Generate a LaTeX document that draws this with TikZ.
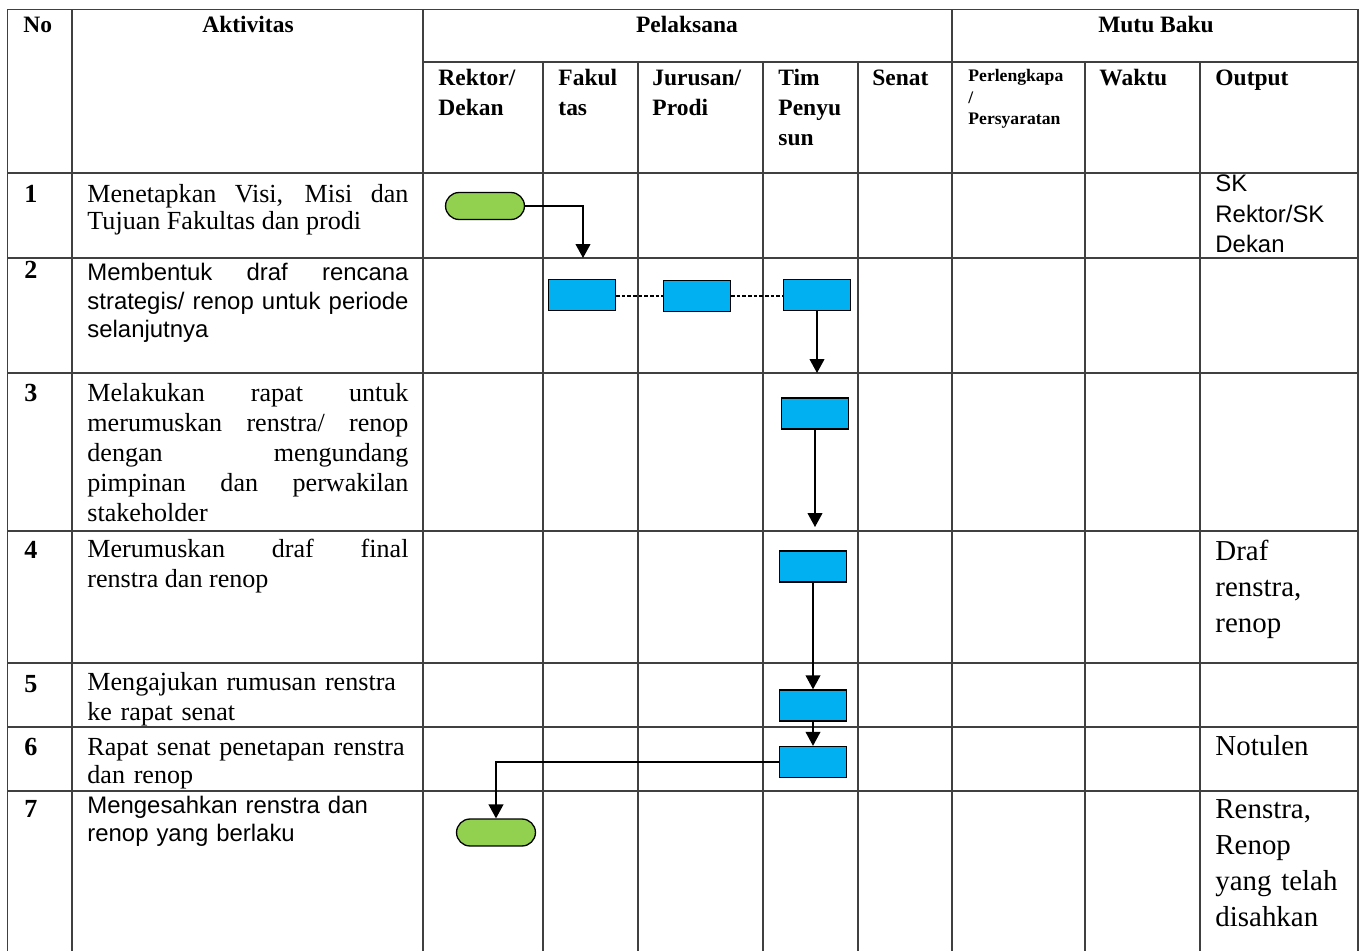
\documentclass[tikz,border=0pt]{standalone}
\usepackage{fontspec}
\setmainfont{Liberation Serif}
\setsansfont{Liberation Sans}
\usepackage{tikz}
\usetikzlibrary{arrows.meta, positioning}

\definecolor{boxblue}{HTML}{00B0F0}
\definecolor{termgreen}{HTML}{92D050}

\begin{document}
\begin{tikzpicture}[
        x=0.46pt, y=-0.46pt,
        grid_line/.style={draw=black!75, line width=0.55pt},
        box_act/.style={draw, rectangle, fill=boxblue, line width=0.6pt, minimum width=30.8pt, minimum height=14.3pt, inner sep=0pt},
        box_term/.style={draw, rectangle, rounded corners=6.2pt, fill=termgreen, line width=0.6pt, minimum width=36.3pt, minimum height=12.4pt, inner sep=0pt},
        arrow/.style={-{Triangle[length=6.4pt, width=6.8pt]}, line width=0.6pt},
        dashed_link/.style={dash pattern=on 1.6pt off 1pt, line width=0.5pt},
        txt_head/.style={font=\fontsize{10.8}{13.6}\selectfont\bfseries, inner sep=0pt},
        txt_sub/.style={txt_head, anchor=base west, text width=55pt, align=left},
        txt_no/.style={font=\fontsize{12}{14}\selectfont\bfseries, anchor=base west, inner sep=0pt},
        txt_act/.style={font=\fontsize{12}{13.8}\selectfont, anchor=base west, inner sep=0pt, text width=147.7pt, align=justify},
        txt_act_sans/.style={txt_act, font=\sffamily\fontsize{11}{12.9}\selectfont},
        txt_out/.style={font=\fontsize{13.3}{16.6}\selectfont, anchor=base west, inner sep=0pt, text width=66pt, align=left},
        txt_out_sans/.style={txt_out, font=\sffamily\fontsize{11}{14}\selectfont}
    ]
    \useasboundingbox (0,0) rectangle (1362,951);

    % ==================== Table grid ====================
    \draw[grid_line] (7.5,951) -- (7.5,9.5) -- (1358,9.5) -- (1358,951);
    \foreach \xx in {72,423,952} \draw[grid_line] (\xx,9.5) -- (\xx,951);
    \foreach \xx in {543,638,763,858,1085,1200} \draw[grid_line] (\xx,62) -- (\xx,951);
    \draw[grid_line] (423,62) -- (1358,62);
    \foreach \yy in {173,258,373,531,663,727,791} \draw[grid_line] (7.5,\yy) -- (1358,\yy);

    % ==================== Header ====================
    \node[txt_head, anchor=base west] (h_no) at (23,33) {No};
    \node[txt_head, anchor=base] (h_akt) at (248,33) {Aktivitas};
    \node[txt_head, anchor=base] (h_pel) at (687,33) {Pelaksana};
    \node[txt_head, anchor=base] (h_mutu) at (1156,33) {Mutu Baku};

    \node[txt_sub] (h_rektor) at (438,86) {Rektor/\\Dekan};
    \node[txt_sub] (h_fak) at (558,86) {Fakul\\tas};
    \node[txt_sub] (h_jur) at (652,86) {Jurusan/\\Prodi};
    \node[txt_sub] (h_tim) at (778,86) {Tim\\Penyu\\sun};
    \node[txt_sub] (h_senat) at (872,86) {Senat};
    \node[txt_sub, font=\fontsize{8.1}{9.7}\selectfont\bfseries] (h_perl) at (968,82) {Perlengkapa\\/\\Persyaratan};
    \node[txt_sub] (h_waktu) at (1099,86) {Waktu};
    \node[txt_sub] (h_out) at (1215,86) {Output};

    % ==================== Row numbers ====================
    \node[txt_no] (no1) at (24,203) {1};
    \node[txt_no] (no2) at (24,279) {2};
    \node[txt_no] (no3) at (24,402) {3};
    \node[txt_no] (no4) at (24,558) {4};
    \node[txt_no] (no5) at (24,692) {5};
    \node[txt_no] (no6) at (24,755) {6};
    \node[txt_no] (no7) at (24,817) {7};

    % ==================== Activities ====================
    \node[txt_act, font=\fontsize{12}{12.3}\selectfont] (akt1) at (87,203) {Menetapkan Visi, Misi dan\linebreak Tujuan Fakultas dan prodi};
    \node[txt_act_sans] (akt2) at (87,281) {Membentuk draf rencana\linebreak strategis/ renop untuk periode\linebreak selanjutnya};
    \node[txt_act] (akt3) at (87,402) {Melakukan rapat untuk\linebreak merumuskan renstra/ renop\linebreak dengan mengundang\linebreak pimpinan dan perwakilan\linebreak stakeholder};
    \node[txt_act] (akt4) at (87,557) {Merumuskan draf final\linebreak renstra dan renop};
    \node[txt_act, align=left] (akt5) at (87,690) {Mengajukan rumusan renstra\\ke rapat senat};
    \node[txt_act, align=left, font=\fontsize{12}{12.9}\selectfont] (akt6) at (87,755) {Rapat senat penetapan renstra\\dan renop};
    \node[txt_act_sans, align=left] (akt7) at (87,813) {Mengesahkan renstra dan\\renop yang berlaku};

    % ==================== Outputs ====================
    \node[txt_out_sans] (out1) at (1215,192) {SK\\Rektor/SK\\Dekan};
    \node[txt_out] (out4) at (1215,560) {Draf\\renstra,\\renop};
    \node[txt_out] (out6) at (1215,755) {Notulen};
    \node[txt_out] (out7) at (1215,818) {Renstra,\\Renop\\yang telah\\disahkan};

    % ==================== Flow ====================
    \node[box_term] (start) at (485,206) {};
    \coordinate (r1_end) at (583,258);
    \draw[arrow] (start.east) -| (r1_end);

    \node[box_act] (fak_box) at (582,295) {};
    \node[box_act] (jur_box) at (697,296) {};
    \node[box_act] (tim_box2) at (817,295) {};
    \draw[dashed_link] (fak_box.east |- 0,296) -- (jur_box.west);
    \draw[dashed_link] (jur_box.east) -- (tim_box2.west |- 0,296);

    \coordinate (r2_end) at (817,373);
    \draw[arrow] (tim_box2.south) -- (r2_end);

    \node[box_act] (tim_box3) at (815,413.5) {};
    \coordinate (r3_end) at (815,527);
    \draw[arrow] (tim_box3.south) -- (r3_end);

    \node[box_act] (tim_box4) at (813,566.5) {};
    \node[box_act] (tim_box5) at (813,705.5) {};
    \node[box_act] (tim_box6) at (813,762) {};
    \draw[arrow] (tim_box4.south) -- (tim_box5.north);
    \draw[arrow] (tim_box5.south) -- (tim_box6.north);

    \node[box_term] (finish) at (496,832.5) {};
    \draw[arrow] (tim_box6.west) -| (finish.north);

\end{tikzpicture}
\end{document}
